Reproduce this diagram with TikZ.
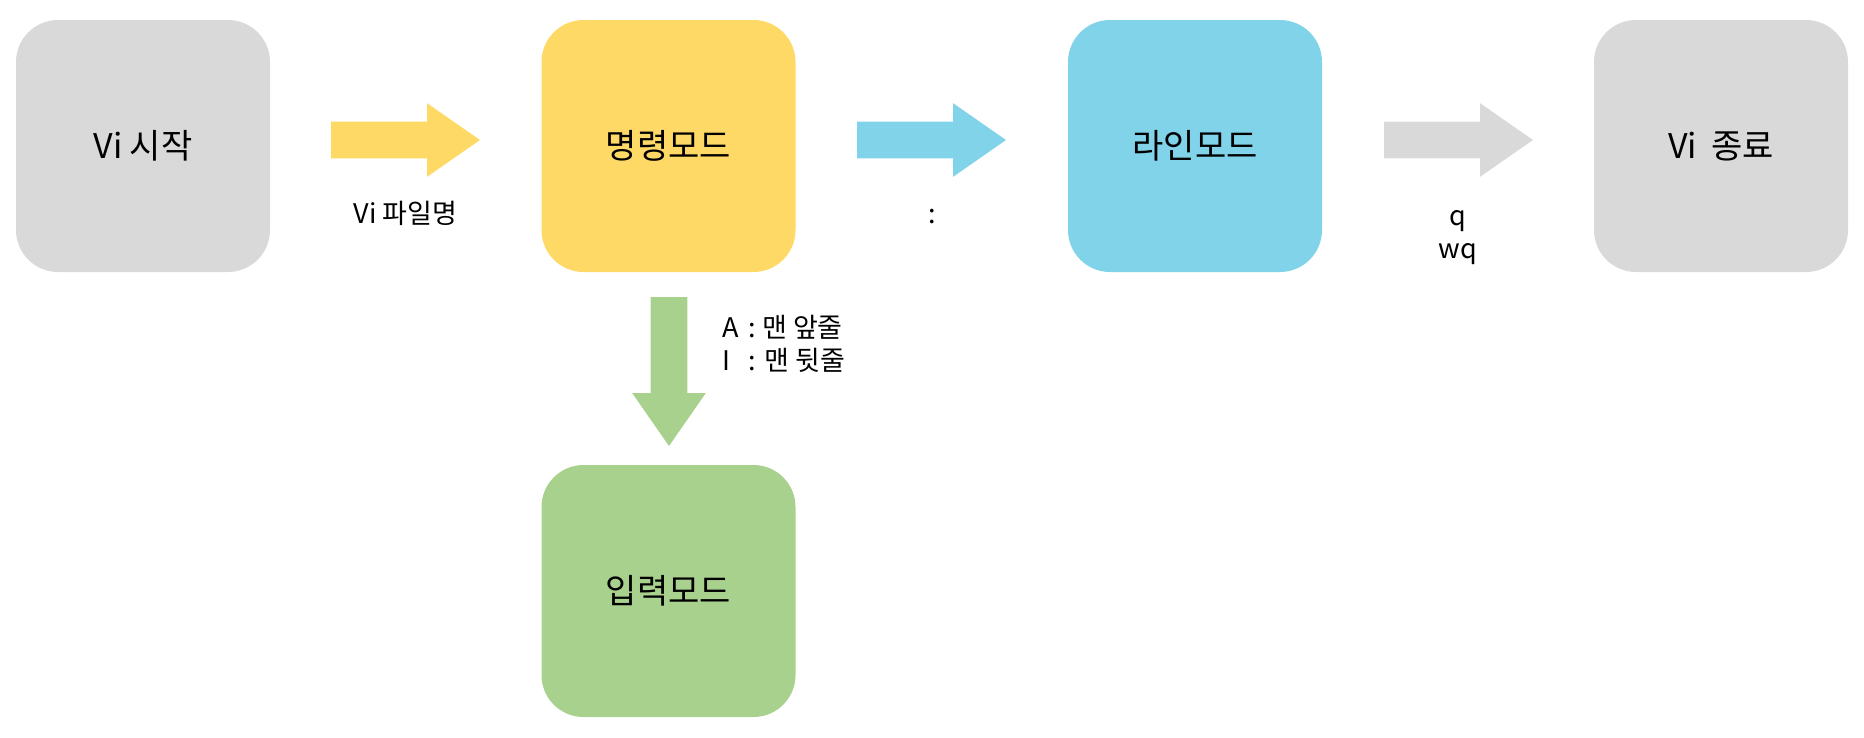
\documentclass[tikz,border=0pt]{standalone}
\usepackage{fontspec}
\setmainfont{Noto Sans CJK KR}
\definecolor{grayc}{HTML}{D9D9D9}
\definecolor{yellowc}{HTML}{FFD966}
\definecolor{cyanc}{HTML}{80D3E8}
\definecolor{greenc}{HTML}{A9D18E}
\tikzset{
  box/.style={fill=#1, draw=none, rounded corners=42pt, minimum width=254pt, minimum height=252pt, inner sep=0pt, font=\fontsize{34pt}{40pt}\selectfont},
  lbl/.style={font=\fontsize{27pt}{33pt}\selectfont, inner sep=0pt},
  pics/barrow/.style={code={\fill[#1] (0,-18.3) -- (96,-18.3) -- (96,-36.85) -- (149,0) -- (96,36.85) -- (96,18.3) -- (0,18.3) -- cycle;}}
}
\begin{document}
\begin{tikzpicture}[x=1pt,y=1pt]
\useasboundingbox (0,0) rectangle (1864,-737);
\node[box=grayc] (start) at (143,-146) {Vi 시작};
\node[box=yellowc] (cmd) at (668.5,-146) {명령모드};
\node[box=cyanc] (line) at (1195,-146) {라인모드};
\node[box=grayc] (quit) at (1721,-146) {Vi\hspace{0.2em} 종료};
\node[box=greenc] (ins) at (668.5,-591) {입력모드};
\coordinate (a1) at (331,-140);
\coordinate (a2) at (857,-140);
\coordinate (a3) at (1384,-140);
\coordinate (a4) at (669,-297);
\pic at (a1) {barrow=yellowc};
\pic at (a2) {barrow=cyanc};
\pic at (a3) {barrow=grayc};
\pic[rotate=-90] at (a4) {barrow=greenc};
\node[lbl, anchor=base] (l1) at (405.5,-223) {Vi 파일명};
\node[lbl, anchor=base] (l2) at (932,-223) {:};
\node[lbl, anchor=base, align=center] (l3) at (1458,-258) {q\\wq};
\node[lbl, anchor=base west, align=left] (l4) at (722,-370) {A\hspace{0.15em} : 맨 앞줄\\\rlap{I}\phantom{A}\hspace{0.15em} : 맨 뒷줄};
\end{tikzpicture}
\end{document}
